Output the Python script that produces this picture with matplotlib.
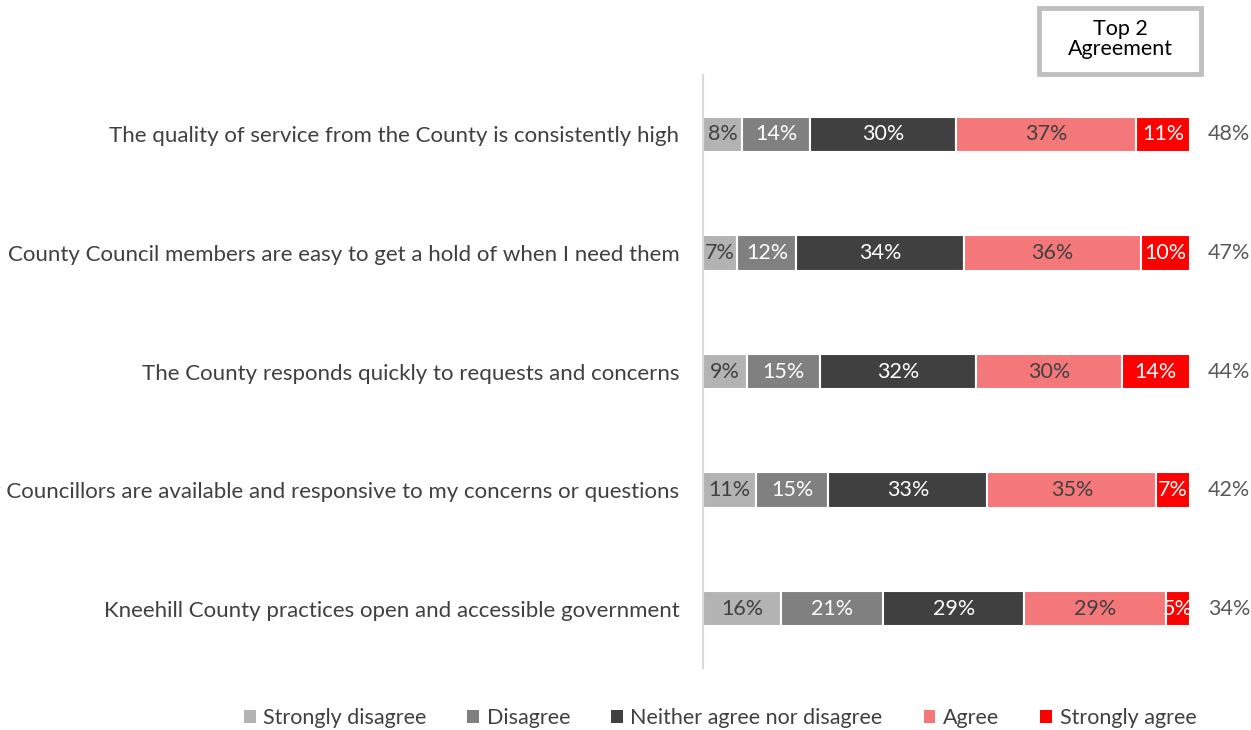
import matplotlib
matplotlib.use("Agg")
import matplotlib.pyplot as plt
from matplotlib.patches import Patch, FancyBboxPatch
import numpy as np

plt.rcParams['font.family'] = ['Lato', 'DejaVu Sans']

statements = [
    "The quality of service from the County is consistently high",
    "County Council members are easy to get a hold of when I need them",
    "The County responds quickly to requests and concerns",
    "Kneehill County Councillors are available and responsive to my concerns or questions",
    "Kneehill County practices open and accessible government",
]
levels = ["Strongly disagree", "Disagree", "Neither agree nor disagree",
          "Agree", "Strongly agree"]

strongly_disagree = [8, 7, 9, 11, 16]
disagree = [14, 12, 15, 15, 21]
neither = [30, 34, 32, 33, 29]
agree = [37, 36, 30, 35, 29]
strongly_agree = [11, 10, 14, 7, 5]
top2 = [48, 47, 44, 42, 34]

colors = ["#B3B3B3", "#808080", "#404040", "#F4777A", "#FF0000"]
label_colors = ["#404040", "white", "white", "#404040", "white"]

FS = 16

series = np.array([strongly_disagree, disagree, neither, agree, strongly_agree], dtype=float)
totals = series.sum(axis=0)

W, H = 1251, 730
fig = plt.figure(figsize=(W / 100, H / 100), dpi=100)
ax = fig.add_axes([703 / W, (H - 668) / H, (1190 - 703) / W, (668 - 75) / H])

y = np.arange(len(statements))
left = np.zeros(len(statements))
for k in range(len(levels)):
    widths = series[k] / totals
    ax.barh(y, widths, left=left, height=0.30, color=colors[k],
            edgecolor="white", linewidth=1.5, label=levels[k])
    for i in range(len(statements)):
        ax.text(left[i] + widths[i] / 2, y[i], f"{int(series[k][i])}%",
                ha="center", va="center", fontsize=FS - 0.5, color=label_colors[k])
    left += widths

for i, v in enumerate(top2):
    ax.text(1.08, y[i], f"{v}%", ha="center", va="center",
            fontsize=FS - 0.5, color="#595959", transform=ax.get_yaxis_transform(),
            clip_on=False)

ax.set_xlim(0, 1)
ax.set_ylim(len(statements) - 0.5, -0.5)
ax.set_yticks(y)
ax.set_yticklabels(statements, fontsize=FS, color="#404040")
ax.tick_params(axis="y", length=0, pad=17)
ax.set_xticks([])
for s in ["top", "right", "bottom"]:
    ax.spines[s].set_visible(False)
ax.spines["left"].set_color("#D9D9D9")
ax.spines["left"].set_linewidth(1.5)

# Header box above the Top 2 column
box = FancyBboxPatch((1039 / W, (H - 74) / H), 162 / W, 66 / H,
                     boxstyle="square,pad=0", transform=fig.transFigure,
                     facecolor="white", edgecolor="#BFBFBF", linewidth=3.5)
fig.patches.append(box)
fig.text(1120 / W, (H - 39) / H, "Top 2\nAgreement", ha="center", va="center",
         fontsize=FS - 0.5, color="black", linespacing=1.0)

handles = [Patch(facecolor=c, edgecolor="none") for c in colors]
fig.legend(handles, levels, loc="center", bbox_to_anchor=(720 / W, (H - 718) / H),
           ncol=5, frameon=False, fontsize=FS - 0.5, handlelength=0.55,
           handleheight=0.55, handletextpad=0.35, columnspacing=1.9,
           labelcolor="#404040")

fig.savefig("out.png", dpi=100)
